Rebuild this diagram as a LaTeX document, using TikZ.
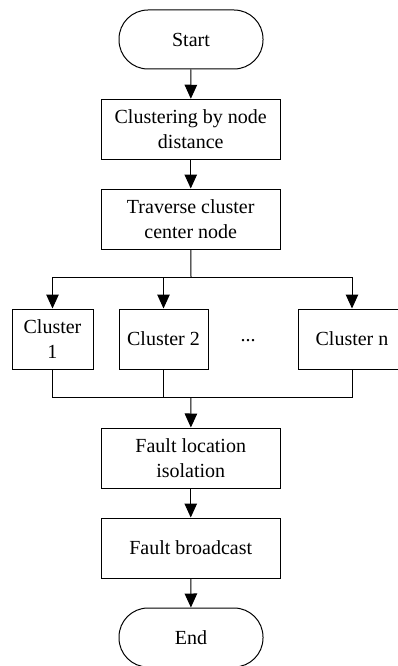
\documentclass[tikz,border=0pt]{standalone}
\usepackage{fontspec}
\setmainfont{Liberation Serif}
\usetikzlibrary{arrows.meta}
\begin{document}
\begin{tikzpicture}[x=1pt,y=-1pt,
  box/.style={draw, line width=1pt, minimum width=178.5pt, minimum height=60pt,
    inner sep=0pt, align=center, font=\fontsize{20}{25}\selectfont},
  term/.style={box, rounded corners=29pt, minimum width=144pt, minimum height=59pt},
  flow/.style={line width=1pt, -{Triangle[width=12.5pt,length=14pt]}},
  link/.style={line width=1pt}]
\useasboundingbox (0,0) rectangle (398,666);
\clip (0,0) rectangle (398,666);

% main column
\node[term] (start) at (191,39.5) {Start};
\node[box] (cluster) at (190.75,129.25) {Clustering by node\\distance};
\node[box] (traverse) at (190.75,219) {Traverse cluster\\center node};

% clusters
\node[box, minimum width=81pt] (c1) at (52.5,339) {Cluster\\1};
\node[box, minimum width=89pt] (c2) at (163.5,339) {Cluster 2};
\node[font=\fontsize{20}{25}\selectfont] (dots) at (248,341) {...};
\node[box, minimum width=108pt] (cn) at (352,339) {Cluster n};

\node[box] (locate) at (190.75,458) {Fault location\\isolation};
\node[box] (bcast) at (190.75,548) {Fault broadcast};
\node[term] (end) at (191,637.5) {End};

% branch and merge points
\coordinate (split) at (191,277);
\coordinate (merge) at (191,397);

\draw[flow] (start) -- (cluster);
\draw[flow] (cluster) -- (traverse);
\draw[link] (traverse) -- (split);
\draw[flow] (split) -| (c1);
\draw[flow] (split) -| (c2);
\draw[flow] (split) -| (cn);
\draw[link] (c1) |- (merge);
\draw[link] (c2) |- (merge);
\draw[link] (cn) |- (merge);
\draw[flow] (merge) -- (locate);
\draw[flow] (locate) -- (bcast);
\draw[flow] (bcast) -- (end);
\end{tikzpicture}
\end{document}
